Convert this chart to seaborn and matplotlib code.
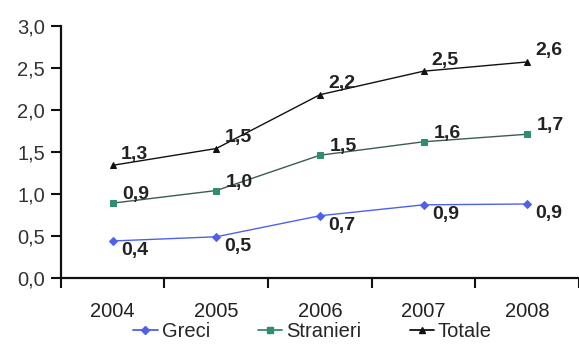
import matplotlib
matplotlib.use("Agg")
import matplotlib.pyplot as plt
import seaborn as sns
import pandas as pd
from matplotlib.lines import Line2D

years = ["2004", "2005", "2006", "2007", "2008"]
greci = [0.44, 0.49, 0.74, 0.87, 0.88]
stranieri = [0.89, 1.04, 1.46, 1.62, 1.71]
totale = [1.34, 1.54, 2.18, 2.46, 2.57]

series_names = ["Greci", "Stranieri", "Totale"]
series_values = [greci, stranieri, totale]
colors = {"Greci": "#5060ee", "Stranieri": "#2f8f6a", "Totale": "#111111"}
line_colors = {"Greci": "#5060ee", "Stranieri": "#3a5e4e", "Totale": "#111111"}
markers = {"Greci": "D", "Stranieri": "s", "Totale": "^"}
msizes = {"Greci": 4.0, "Stranieri": 5.0, "Totale": 4.5}

rows = []
for name, vals in zip(series_names, series_values):
    for i, (y, v) in enumerate(zip(years, vals)):
        rows.append({"pos": i, "year": y, "value": v, "serie": name})
df = pd.DataFrame(rows)

sns.set_style("white")
plt.rcParams["font.family"] = ["Liberation Sans", "DejaVu Sans"]

fig = plt.figure(figsize=(5.79, 3.44), dpi=100)
ax = fig.add_axes([0.105, 0.192, 0.895, 0.733])

for name in series_names:
    sub = df[df["serie"] == name]
    sns.lineplot(data=sub, x="pos", y="value", ax=ax, color=line_colors[name],
                 marker=markers[name], markersize=msizes[name],
                 markerfacecolor=colors[name], markeredgecolor=colors[name],
                 linewidth=1.0, legend=False)

# value labels next to each point
offsets = {"Greci": (6, -7), "Stranieri": (7, 6), "Totale": (6, 8)}
for name in series_names:
    sub = df[df["serie"] == name]
    dx, dy = offsets[name]
    for _, r in sub.iterrows():
        ax.annotate(f"{r['value']:.1f}".replace(".", ","), (r["pos"], r["value"]),
                    xytext=(dx, dy), textcoords="offset points",
                    ha="left", va="center", fontsize=14, color="#222222",
                    fontweight="bold")

yticks = [0, 0.5, 1.0, 1.5, 2.0, 2.5, 3.0]
ax.set_xlim(-0.5, 4.5)
ax.set_ylim(0, 3.0)
ax.set_yticks(yticks)
ax.set_yticklabels([f"{v:.1f}".replace(".", ",") for v in yticks])
ax.set_xticks(range(len(years)))
ax.set_xticklabels(years)
ax.set_xticks([i + 0.5 for i in range(-1, len(years))], minor=True)
ax.tick_params(axis="x", which="major", bottom=True, length=0, pad=17,
               labelsize=14.5, colors="#222222")
ax.tick_params(axis="x", which="minor", bottom=True, length=7, width=1.5,
               direction="out", color="#111111")
ax.tick_params(axis="y", left=True, length=7.5, width=1.5, direction="out",
               labelsize=14.5, colors="#111111", labelcolor="#333333", pad=4)
ax.set_xlabel("")
ax.set_ylabel("")
for s in ["top", "right"]:
    ax.spines[s].set_visible(False)
for s in ["left", "bottom"]:
    ax.spines[s].set_linewidth(1.6)
    ax.spines[s].set_color("#111111")

handles = [Line2D([0], [0], color=colors[n], marker=markers[n], markersize=msizes[n],
                  linewidth=1.3) for n in series_names]
fig.legend(handles, series_names, loc="lower center", bbox_to_anchor=(0.54, -0.045),
           ncol=3, frameon=False, fontsize=14.5, handlelength=1.2, handletextpad=0.2,
           columnspacing=2.4)

fig.savefig("out.png", dpi=100)
